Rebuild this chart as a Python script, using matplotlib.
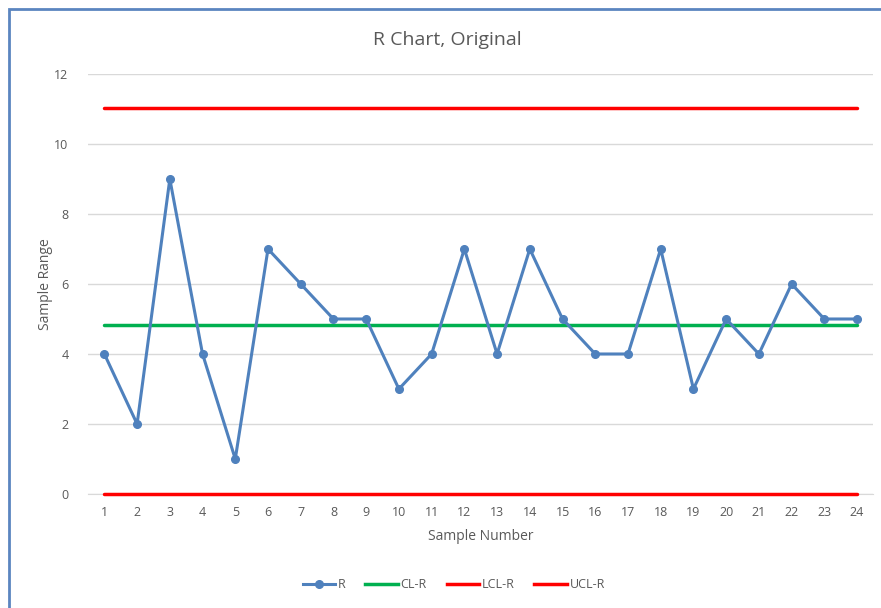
import numpy as np
import matplotlib
matplotlib.use('Agg')
import matplotlib.pyplot as plt
from matplotlib.patches import Rectangle
from matplotlib.lines import Line2D

plt.rcParams['font.family'] = ['Open Sans', 'DejaVu Sans']

samples = list(range(1, 25))
r_values = [4, 2, 9, 4, 1, 7, 6, 5, 5, 3, 4, 7, 4, 7, 5, 4, 4, 7, 3, 5, 4, 6, 5, 5]
cl_r = 4.83
lcl_r = 0.0
ucl_r = 11.03
y_ticks = [0, 2, 4, 6, 8, 10, 12]

text_col = '#595959'
grid_col = '#D9D9D9'
blue = '#4F81BD'
green = '#00B050'
red = '#FF0000'

fig = plt.figure(figsize=(8.81, 6.08), dpi=100)
ax = fig.add_axes([0.0999, 0.1875, 0.8915, 0.6908])

ax.plot(samples, [cl_r] * len(samples), color=green, lw=2.5, solid_capstyle='round', zorder=3)
ax.plot(samples, [lcl_r] * len(samples), color=red, lw=2.5, solid_capstyle='round', zorder=3, clip_on=False)
ax.plot(samples, [ucl_r] * len(samples), color=red, lw=2.5, solid_capstyle='round', zorder=3)
ax.plot(samples, r_values, color=blue, lw=2.2, marker='o', ms=5.5, zorder=4)

ax.set_xlim(0.5, 24.5)
ax.set_ylim(0, 12)
ax.set_xticks(samples)
ax.set_yticks(y_ticks)
ax.tick_params(length=0, colors=text_col, labelsize=9)
ax.tick_params(axis='x', pad=9)
ax.tick_params(axis='y', pad=14)
ax.grid(axis='y', color=grid_col, lw=1)
ax.set_axisbelow(True)
for s in ['top', 'right', 'left']:
    ax.spines[s].set_visible(False)
ax.spines['bottom'].set_color(grid_col)

ax.set_xlabel('Sample Number', color=text_col, fontsize=10, labelpad=7)
ax.set_ylabel('Sample Range', color=text_col, fontsize=10, labelpad=1)
fig.text(0.508, 0.935, 'R Chart, Original', ha='center', va='center', color=text_col, fontsize=14)

handles = [
    Line2D([], [], color=blue, lw=2.2, marker='o', ms=5.5),
    Line2D([], [], color=green, lw=2.5),
    Line2D([], [], color=red, lw=2.5),
    Line2D([], [], color=red, lw=2.5),
]
fig.legend(handles, ['R', 'CL-R', 'LCL-R', 'UCL-R'], loc='center', bbox_to_anchor=(0.515, 0.038),
           ncol=4, frameon=False, fontsize=9, handlelength=2.6, handletextpad=0.2,
           columnspacing=1.6, labelcolor=text_col)

fig.patches.append(Rectangle((9 / 881, -0.1), 1.2, 1 - 9 / 608 + 0.1, transform=fig.transFigure,
                             fill=False, edgecolor='#5B85C0', lw=2))

fig.savefig('out.png', dpi=100)
